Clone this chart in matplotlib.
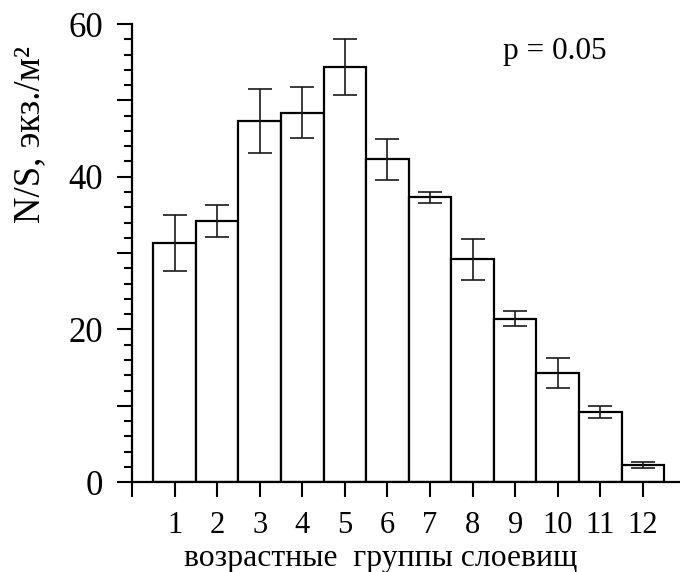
import matplotlib
matplotlib.use("Agg")
import matplotlib.pyplot as plt
from matplotlib.ticker import MultipleLocator, FixedLocator

groups = [1, 2, 3, 4, 5, 6, 7, 8, 9, 10, 11, 12]
values = [31.3, 34.2, 47.3, 48.4, 54.4, 42.3, 37.3, 29.2, 21.4, 14.3, 9.2, 2.3]
errors = [3.7, 2.1, 4.2, 3.3, 3.7, 2.7, 0.7, 2.7, 1.0, 1.9, 0.8, 0.4]
tick_labels = [""] + [str(g) for g in groups]

plt.rcParams['font.family'] = ['Liberation Serif', 'DejaVu Serif']

fig = plt.figure(figsize=(6.8, 5.72), dpi=100)
ax = fig.add_axes([0.194, 0.157, 0.806, 0.801])

ax.bar(groups, values, width=1.0, color="white", edgecolor="black", linewidth=1.6, zorder=2)
ax.errorbar(groups, values, yerr=errors, fmt="none", ecolor="#1a1a1a", elinewidth=1.2,
            capsize=8.5, capthick=1.2, zorder=3)

ax.set_xlim(0, 12.87)
ax.set_ylim(0, 60)

ax.xaxis.set_major_locator(FixedLocator(list(range(0, 13))))
ax.set_xticklabels(tick_labels)
ax.yaxis.set_major_locator(MultipleLocator(10))
ax.yaxis.set_minor_locator(MultipleLocator(2))
ax.set_yticks([0, 10, 20, 30, 40, 50, 60])
ax.set_yticklabels(["0", "", "20", "", "40", "", "60"])

ax.spines['top'].set_visible(False)
ax.spines['right'].set_visible(False)
for s in ['left', 'bottom']:
    ax.spines[s].set_linewidth(1.6)

ax.tick_params(axis='y', which='major', direction='out', length=11, width=1.5, labelsize=25, pad=10)
ax.tick_params(axis='y', which='minor', direction='out', length=5.5, width=1.5)
ax.tick_params(axis='x', which='major', direction='out', length=11, width=1.5, labelsize=22, pad=10)

ax.set_ylabel("N/S, экз./м²", fontsize=26.5)
ax.yaxis.set_label_coords(-0.155, 0.758)
ax.set_xlabel("возрастные  группы слоевищ", fontsize=22.8)
ax.xaxis.label.set_va("baseline")
ax.xaxis.set_label_coords(0.454, -0.1825)

ax.text(0.677, 0.939, "p = 0.05", transform=ax.transAxes, fontsize=22.5, ha="left", va="center")

fig.savefig("out.png", dpi=100)
